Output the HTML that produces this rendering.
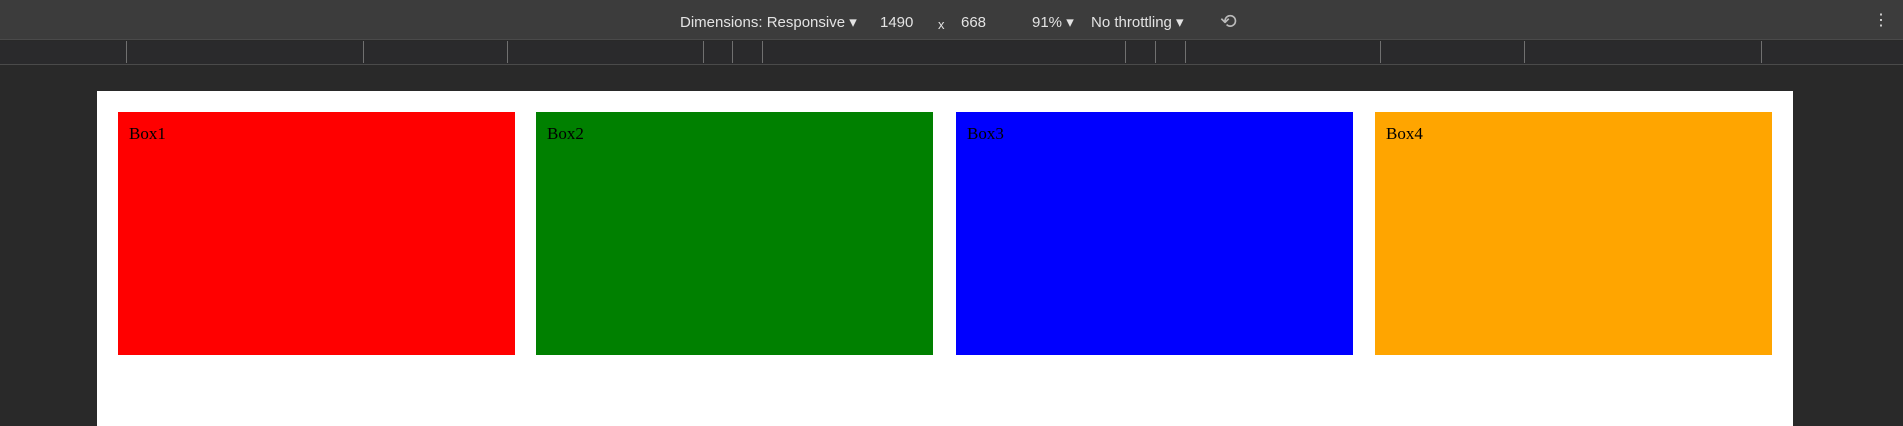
<!DOCTYPE html>
<html><head><meta charset="utf-8"><style>
*{margin:0;padding:0;box-sizing:border-box}
body{width:1903px;height:426px;background:#292929;position:relative;overflow:hidden;font-family:"Liberation Sans",sans-serif}
.abs{position:absolute}
#toolbar{left:0;top:0;width:1903px;height:40px;background:#3c3c3c;border-bottom:1px solid #4a4a4a}
.tt{color:#e3e3e3;font-size:15px;top:13px;white-space:nowrap}
#ruler{left:0;top:41px;width:1903px;height:24px;background:#2a2a2c;border-bottom:1px solid #4a4a4a}
.rl{top:0;width:1px;height:22px;background:#707070}
#page{left:97px;top:91px;width:1696px;height:335px;background:#fff}
.box{top:112px;width:397px;height:243px;font-family:"Liberation Serif",serif;font-size:17px;color:#000;padding:12px 11px}
</style></head><body>
<div id="toolbar" class="abs">
<div class="abs tt" style="left:680px">Dimensions: Responsive ▾</div>
<div class="abs tt" style="left:880px;top:14px">1490</div>
<div class="abs tt" style="left:938px;top:17px;font-size:13px">x</div>
<div class="abs tt" style="left:961px;top:14px">668</div>
<div class="abs tt" style="left:1032px">91% ▾</div>
<div class="abs tt" style="left:1091px">No throttling ▾</div>
<div class="abs tt" style="left:1220px;top:9px;font-size:20px;color:#bbb">⟲</div>
<div class="abs tt" style="left:1873px;top:10px;font-size:16px">⋮</div>
</div>
<div id="ruler" class="abs">
<div class="abs rl" style="left:126px"></div>
<div class="abs rl" style="left:363px"></div>
<div class="abs rl" style="left:507px"></div>
<div class="abs rl" style="left:703px"></div>
<div class="abs rl" style="left:732px"></div>
<div class="abs rl" style="left:762px"></div>
<div class="abs rl" style="left:1125px"></div>
<div class="abs rl" style="left:1155px"></div>
<div class="abs rl" style="left:1185px"></div>
<div class="abs rl" style="left:1380px"></div>
<div class="abs rl" style="left:1524px"></div>
<div class="abs rl" style="left:1761px"></div>
</div>
<div id="page" class="abs"></div>
<div class="abs box" style="left:118px;background:#ff0000">Box1</div>
<div class="abs box" style="left:536px;background:#008000">Box2</div>
<div class="abs box" style="left:956px;background:#0000ff">Box3</div>
<div class="abs box" style="left:1375px;background:#ffa500">Box4</div>
</body></html>
